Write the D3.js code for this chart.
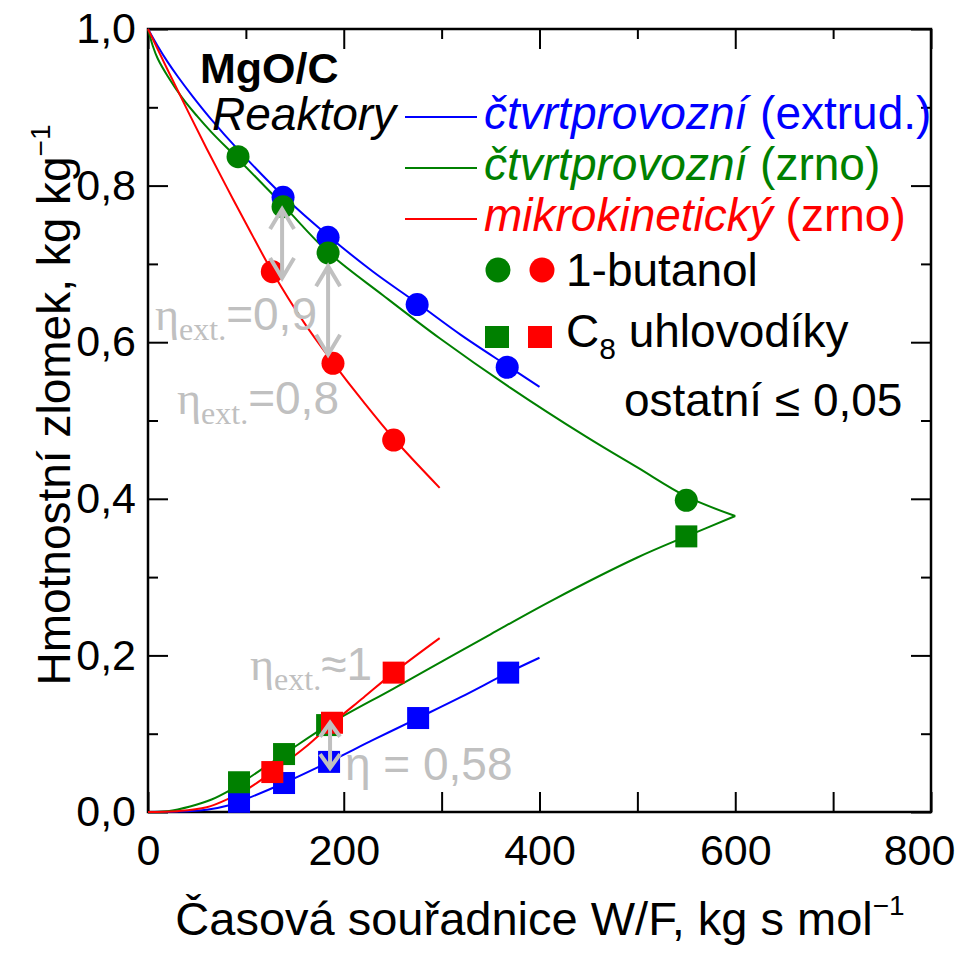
<!DOCTYPE html>
<html>
<head>
<meta charset="utf-8">
<script src="https://cdn.jsdelivr.net/npm/d3@7"></script>
<style>
  body { margin: 0; background: #fff; }
  svg text { font-family: "Liberation Sans", Arial, sans-serif; }
</style>
</head>
<body>
<div id="chart"></div>
<script>
var svgWidth = 973;
var svgHeight = 955;

// axis ticks
var xMajorTicks = [0, 200, 400, 600, 800];
var xMinorTicks = [100, 300, 500, 700];
var yMajorTicks = [0, 0.2, 0.4, 0.6, 0.8, 1.0];
var yMinorTicks = [0.1, 0.3, 0.5, 0.7, 0.9];

// measured points, 1-butanol (circles)
var blueButanolX = [138, 184, 275, 367];
var blueButanolY = [0.785, 0.734, 0.648, 0.568];
var greenButanolX = [92, 138, 184, 550];
var greenButanolY = [0.837, 0.773, 0.714, 0.398];
var redButanolX = [127, 189, 251];
var redButanolY = [0.690, 0.573, 0.475];

// measured points, C8 hydrocarbons (squares)
var blueC8X = [93, 139, 185, 276, 368];
var blueC8Y = [0.013, 0.037, 0.064, 0.120, 0.178];
var greenC8X = [93, 139, 183, 550];
var greenC8Y = [0.038, 0.074, 0.111, 0.352];
var redC8X = [127, 188, 251];
var redC8Y = [0.051, 0.114, 0.178];

// model curves
var blueButanolCurveX = [0, 10, 20, 30, 45, 65, 92, 138, 184, 230, 275, 320, 367, 400];
var blueButanolCurveY = [1.0, 0.978, 0.958, 0.940, 0.915, 0.884, 0.846, 0.787, 0.736, 0.690, 0.650, 0.609, 0.570, 0.543];
var greenButanolCurveX = [0, 5, 10, 20, 35, 50, 65, 92, 138, 184, 240, 298, 370, 448, 500, 550, 600];
var greenButanolCurveY = [1.0, 0.978, 0.962, 0.940, 0.912, 0.889, 0.868, 0.834, 0.775, 0.715, 0.660, 0.605, 0.542, 0.479, 0.440, 0.403, 0.378];
var redButanolCurveX = [0, 20, 40, 60, 80, 100, 127, 160, 189, 220, 251, 298];
var redButanolCurveY = [1.0, 0.948, 0.897, 0.847, 0.799, 0.752, 0.690, 0.624, 0.574, 0.524, 0.477, 0.414];

var blueC8CurveX = [0, 30, 60, 84, 93, 139, 185, 230, 276, 320, 368, 400];
var blueC8CurveY = [0, 0.0005, 0.003, 0.009, 0.013, 0.037, 0.064, 0.092, 0.120, 0.147, 0.178, 0.197];
var greenC8CurveX = [0, 20, 43, 65, 84, 93, 139, 185, 250, 300, 350, 414, 500, 550, 600];
var greenC8CurveY = [0, 0.001, 0.007, 0.016, 0.028, 0.035, 0.074, 0.112, 0.157, 0.192, 0.227, 0.271, 0.325, 0.352, 0.378];
var redC8CurveX = [0, 30, 60, 84, 100, 127, 160, 188, 220, 251, 298];
var redC8CurveY = [0, 0.001, 0.006, 0.018, 0.028, 0.051, 0.082, 0.113, 0.146, 0.178, 0.222];

// gray double arrows (x, from y, to y)
var arrowX = [137, 184, 186];
var arrowY0 = [0.770, 0.697, 0.114];
var arrowY1 = [0.682, 0.584, 0.056];

var svg = d3.select("#chart")
  .append("svg")
  .attr("width", svgWidth)
  .attr("height", svgHeight);

var xScale = d3.scaleLinear().domain([0, 800]).range([148, 931]);
var yScale = d3.scaleLinear().domain([0, 1]).range([812, 29]);

var fs = 46;

// axes with inward ticks
function noLabels() { return ""; }

function tickStyle(g) {
  g.select(".domain").remove();
  g.selectAll("line").attr("stroke", "#000").attr("stroke-width", 2);
}

svg.append("g")
  .attr("transform", "translate(0,812)")
  .call(d3.axisBottom(xScale).tickValues(xMajorTicks).tickSize(-20).tickPadding(22)
    .tickFormat(function(d) { return d; }))
  .call(tickStyle)
  .call(function(g) {
    g.selectAll("text").attr("font-size", 43).attr("fill", "#000")
      .attr("font-family", "Liberation Sans, Arial, sans-serif")
      .attr("dx", function(d) { return d === 800 ? -12 : 0; });
  });

svg.append("g")
  .attr("transform", "translate(0,812)")
  .call(d3.axisBottom(xScale).tickValues(xMinorTicks).tickSize(-20).tickFormat(noLabels))
  .call(tickStyle);

svg.append("g")
  .attr("transform", "translate(0,29)")
  .call(d3.axisTop(xScale).tickValues(xMajorTicks).tickSize(-20).tickFormat(noLabels))
  .call(tickStyle);

svg.append("g")
  .attr("transform", "translate(0,29)")
  .call(d3.axisTop(xScale).tickValues(xMinorTicks).tickSize(-10).tickFormat(noLabels))
  .call(tickStyle);

svg.append("g")
  .attr("transform", "translate(148,0)")
  .call(d3.axisLeft(yScale).tickValues(yMajorTicks).tickSize(-20).tickPadding(12)
    .tickFormat(function(d) { return d3.format(".1f")(d).replace(".", ","); }))
  .call(tickStyle)
  .call(function(g) {
    g.selectAll("text").attr("font-size", 43).attr("fill", "#000")
      .attr("font-family", "Liberation Sans, Arial, sans-serif");
  });

svg.append("g")
  .attr("transform", "translate(148,0)")
  .call(d3.axisLeft(yScale).tickValues(yMinorTicks).tickSize(-10).tickFormat(noLabels))
  .call(tickStyle);

svg.append("g")
  .attr("transform", "translate(931,0)")
  .call(d3.axisRight(yScale).tickValues(yMajorTicks).tickSize(-20).tickFormat(noLabels))
  .call(tickStyle);

svg.append("g")
  .attr("transform", "translate(931,0)")
  .call(d3.axisRight(yScale).tickValues(yMinorTicks).tickSize(-10).tickFormat(noLabels))
  .call(tickStyle);

// frame
svg.append("rect")
  .attr("x", xScale(0))
  .attr("y", yScale(1))
  .attr("width", xScale(800) - xScale(0))
  .attr("height", yScale(0) - yScale(1))
  .attr("fill", "none")
  .attr("stroke", "#000")
  .attr("stroke-width", 2.5);

// axis titles
var xTitle = svg.append("text")
  .attr("x", 540)
  .attr("y", 935)
  .attr("text-anchor", "middle")
  .attr("font-size", 47)
  .text("Časová souřadnice W/F, kg s mol");
xTitle.append("tspan").attr("font-size", 28).attr("dy", -20).text("−1");

var yTitle = svg.append("text")
  .attr("transform", "translate(70,405) rotate(-90)")
  .attr("text-anchor", "middle")
  .attr("font-size", fs)
  .text("Hmotnostní zlomek, kg kg");
yTitle.append("tspan").attr("font-size", 28).attr("dy", -20).text("−1");

// curves
var line = d3.line()
  .x(function(d) { return xScale(d[0]); })
  .y(function(d) { return yScale(d[1]); })
  .curve(d3.curveCatmullRom.alpha(0.5));

function zip(xs, ys) { return xs.map(function(x, i) { return [x, ys[i]]; }); }

var curves = [
  [blueButanolCurveX, blueButanolCurveY, "#0000ff"],
  [blueC8CurveX, blueC8CurveY, "#0000ff"],
  [greenButanolCurveX, greenButanolCurveY, "#008000"],
  [greenC8CurveX, greenC8CurveY, "#008000"],
  [redButanolCurveX, redButanolCurveY, "#ff0000"],
  [redC8CurveX, redC8CurveY, "#ff0000"]
];

curves.forEach(function(c) {
  svg.append("path")
    .attr("d", line(zip(c[0], c[1])))
    .attr("fill", "none")
    .attr("stroke", c[2])
    .attr("stroke-width", 2);
});

// markers
var circleSets = [
  [blueButanolX, blueButanolY, "#0000ff"],
  [greenButanolX, greenButanolY, "#008000"],
  [redButanolX, redButanolY, "#ff0000"]
];
var squareSets = [
  [blueC8X, blueC8Y, "#0000ff"],
  [greenC8X, greenC8Y, "#008000"],
  [redC8X, redC8Y, "#ff0000"]
];

circleSets.forEach(function(s) {
  svg.append("g").selectAll("circle")
    .data(zip(s[0], s[1]))
    .enter()
    .append("circle")
    .attr("cx", function(d) { return xScale(d[0]); })
    .attr("cy", function(d) { return yScale(d[1]); })
    .attr("r", 11.5)
    .attr("fill", s[2]);
});

var sq = 22;
squareSets.forEach(function(s) {
  svg.append("g").selectAll("rect")
    .data(zip(s[0], s[1]))
    .enter()
    .append("rect")
    .attr("x", function(d) { return xScale(d[0]) - sq / 2; })
    .attr("y", function(d) { return yScale(d[1]) - sq / 2; })
    .attr("width", sq)
    .attr("height", sq)
    .attr("fill", s[2]);
});

// gray arrows
var gray = "#c0c0c0";
var arrows = svg.append("g")
  .attr("stroke", gray)
  .attr("stroke-width", 4)
  .attr("fill", "none");

arrowX.forEach(function(ax, i) {
  var px = xScale(ax);
  var top = yScale(arrowY0[i]);
  var bot = yScale(arrowY1[i]);
  var hw = 12, hh = 20;
  if (bot - top < 60) { hw = 10; hh = 14; }
  arrows.append("line").attr("x1", px).attr("x2", px).attr("y1", top + 2).attr("y2", bot - 2);
  arrows.append("path").attr("d", "M" + (px - hw) + "," + (top + hh) + "L" + px + "," + top + "L" + (px + hw) + "," + (top + hh));
  arrows.append("path").attr("d", "M" + (px - hw) + "," + (bot - hh) + "L" + px + "," + bot + "L" + (px + hw) + "," + (bot - hh));
});

// gray eta labels
function etaExt(x, y, rest) {
  var t = svg.append("text")
    .attr("x", x)
    .attr("y", y)
    .attr("fill", gray)
    .attr("font-size", fs);
  t.append("tspan").attr("font-family", "Liberation Serif, Times New Roman, serif").text("η");
  t.append("tspan").attr("font-family", "Liberation Serif, Times New Roman, serif")
    .attr("font-size", 32).attr("dy", 10).text("ext.");
  t.append("tspan").attr("dy", -10).text(rest);
}
etaExt(155, 330, "=0,9");
etaExt(177, 414, "=0,8");
etaExt(250, 680, "≈1");

svg.append("text")
  .attr("x", 345)
  .attr("y", 780)
  .attr("fill", gray)
  .attr("font-size", fs)
  .text("η = 0,58");

// legend block
svg.append("text")
  .attr("x", 200)
  .attr("y", 83)
  .attr("font-size", 43)
  .attr("font-weight", "bold")
  .text("MgO/C");

svg.append("text")
  .attr("x", 212)
  .attr("y", 130)
  .attr("font-size", fs)
  .attr("font-style", "italic")
  .text("Reaktory");

var legendRows = [
  ["čtvrtprovozní", " (extrud.)", "#0000ff"],
  ["čtvrtprovozní", " (zrno)", "#008000"],
  ["mikrokinetický", " (zrno)", "#ff0000"]
];

legendRows.forEach(function(r, i) {
  var ly = 117 + i * 51;
  svg.append("line")
    .attr("x1", 405).attr("x2", 477)
    .attr("y1", ly).attr("y2", ly)
    .attr("stroke", r[2]).attr("stroke-width", 2);
  var t = svg.append("text")
    .attr("x", 484)
    .attr("y", ly + 12)
    .attr("font-size", fs)
    .attr("fill", r[2]);
  t.append("tspan").attr("font-style", "italic").text(r[0]);
  t.append("tspan").text(r[1]);
});

var legendColors = ["#008000", "#ff0000"];
legendColors.forEach(function(c, i) {
  svg.append("circle")
    .attr("cx", 498 + i * 44)
    .attr("cy", 270)
    .attr("r", 12.5)
    .attr("fill", c);
  svg.append("rect")
    .attr("x", 485 + i * 43)
    .attr("y", 326)
    .attr("width", 24)
    .attr("height", 22)
    .attr("fill", c);
});

svg.append("text")
  .attr("x", 566)
  .attr("y", 286)
  .attr("font-size", fs)
  .text("1-butanol");

var c8 = svg.append("text")
  .attr("x", 566)
  .attr("y", 347)
  .attr("font-size", fs);
c8.append("tspan").text("C");
c8.append("tspan").attr("font-size", 30).attr("dy", 12).text("8");
c8.append("tspan").attr("dy", -12).text(" uhlovodíky");

svg.append("text")
  .attr("x", 624)
  .attr("y", 416)
  .attr("font-size", fs)
  .text("ostatní ≤ 0,05");
</script>
</body>
</html>
